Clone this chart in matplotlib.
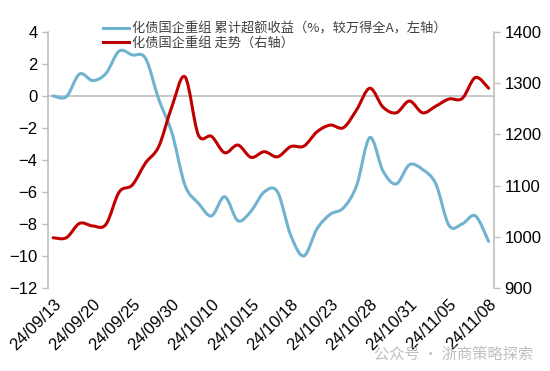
import matplotlib.pyplot as plt
import numpy as np
from matplotlib.path import Path
from matplotlib.patches import PathPatch
from matplotlib.lines import Line2D

plt.rcParams["font.family"] = ["Liberation Sans", "Noto Sans CJK SC", "DejaVu Sans"]

# trading days, 24/09/13 .. 24/11/08
dates = [
    "24/09/13", "24/09/18", "24/09/19", "24/09/20", "24/09/23", "24/09/24",
    "24/09/25", "24/09/26", "24/09/27", "24/09/30", "24/10/08", "24/10/09",
    "24/10/10", "24/10/11", "24/10/14", "24/10/15", "24/10/16", "24/10/17",
    "24/10/18", "24/10/21", "24/10/22", "24/10/23", "24/10/24", "24/10/25",
    "24/10/28", "24/10/29", "24/10/30", "24/10/31", "24/11/01", "24/11/04",
    "24/11/05", "24/11/06", "24/11/07", "24/11/08",
]
# cumulative excess return vs Wind All A (%, left axis)
excess = [
    0.0, -0.05, 1.37, 0.96, 1.4, 2.8, 2.56, 2.35, -0.2, -2.3,
    -5.6, -6.7, -7.5, -6.3, -7.8, -7.2, -6.0, -6.0, -8.7, -10.0,
    -8.3, -7.4, -7.0, -5.6, -2.6, -4.7, -5.5, -4.3, -4.6, -5.5,
    -8.1, -8.0, -7.5, -9.1,
]
# index level (right axis)
index_level = [
    998, 998, 1026, 1021, 1024, 1087, 1101, 1144, 1176, 1254,
    1312, 1199, 1196, 1164, 1179, 1155, 1166, 1156, 1176, 1177,
    1205, 1218, 1213, 1248, 1290, 1253, 1242, 1265, 1242, 1255,
    1269, 1270, 1311, 1290,
]
label_every = 3

blue = "#70B3D1"
red = "#C00000"
grey = "#BFBFBF"


def smooth_path(xs, ys):
    # Excel-like smoothed line: cubic Bezier segments through the data points
    p = np.column_stack([xs, ys]).astype(float)
    n = len(p)
    verts = [p[0]]
    codes = [Path.MOVETO]
    for i in range(n - 1):
        p0 = p[i - 1] if i > 0 else p[i]
        p3 = p[i + 2] if i + 2 < n else p[i + 1]
        c1 = p[i] + (p[i + 1] - p0) / 6
        c2 = p[i + 1] - (p3 - p[i]) / 6
        verts += [c1, c2, p[i + 1]]
        codes += [Path.CURVE4] * 3
    return Path(verts, codes)


x = np.arange(len(dates))

fig = plt.figure(figsize=(5.5, 3.71), dpi=100)
ax = fig.add_axes([0.087, 0.224, 0.811, 0.69])
ax2 = ax.twinx()

ax.add_patch(PathPatch(smooth_path(x, excess), fill=False, edgecolor=blue,
                       lw=2.2, capstyle="round", joinstyle="round", zorder=3))
ax2.add_patch(PathPatch(smooth_path(x, index_level), fill=False, edgecolor=red,
                        lw=2.2, capstyle="round", joinstyle="round", zorder=3))

ax.set_xlim(-0.4, len(dates) - 0.6)
ax.set_ylim(-12, 4)
ax.set_yticks(np.arange(-12, 5, 2))
ax2.set_ylim(900, 1400)
ax2.set_yticks(np.arange(900, 1401, 100))
ax.axhline(0, color=grey, lw=1.2, zorder=0)

ax.set_xticks(x[::label_every])
ax.set_xticklabels(dates[::label_every], rotation=45, ha="right",
                   rotation_mode="anchor", fontsize=12)
ax.tick_params(axis="x", length=0, pad=6)
ax.tick_params(axis="y", labelsize=12, color=grey, length=4, width=1)
ax2.tick_params(axis="y", labelsize=12, color=grey, length=4, width=1)

for a in (ax, ax2):
    for s in ("top", "bottom"):
        a.spines[s].set_visible(False)
ax.spines["right"].set_visible(False)
ax2.spines["left"].set_visible(False)
ax.spines["left"].set_color(grey)
ax2.spines["right"].set_color(grey)
ax2.spines["right"].set_linewidth(1.2)
ax.spines["left"].set_linewidth(1.2)

handles = [
    Line2D([], [], color=blue, lw=2.2),
    Line2D([], [], color=red, lw=2.2),
]
labels = [
    "化债国企重组 累计超额收益（%，较万得全A，左轴）",
    "化债国企重组 走势（右轴）",
]
leg = fig.legend(handles, labels, loc="upper left",
                 bbox_to_anchor=(0.175, 0.958), frameon=False,
                 prop={"family": ["Noto Sans CJK SC", "DejaVu Sans"], "size": 9.5},
                 handlelength=2.0, handletextpad=0.2, labelspacing=0.1,
                 borderpad=0)
for t in leg.get_texts():
    t.set_color("#404040")

fig.text(0.97, 0.045, "公众号 · 浙商策略探索", ha="right", va="center",
         fontsize=11, color="#B0B0B0", alpha=0.8,
         family=["Noto Sans CJK SC", "DejaVu Sans"])

fig.savefig("out.png", dpi=100)
